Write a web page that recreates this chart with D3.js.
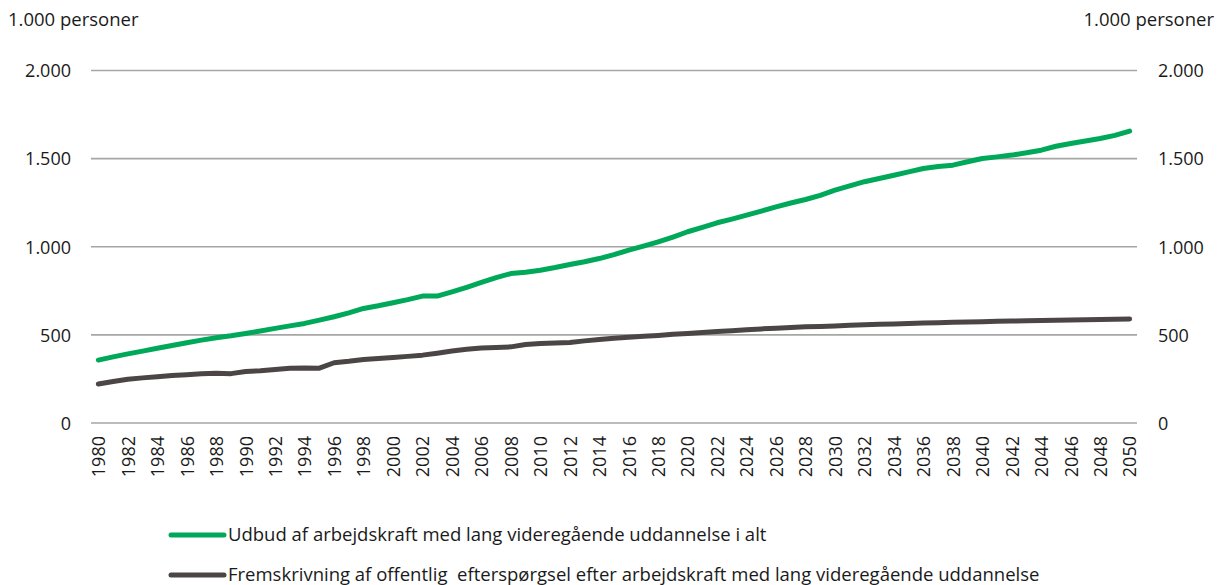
<!DOCTYPE html>
<html><head><meta charset="utf-8">
<script src="https://cdn.jsdelivr.net/npm/d3@7"></script>
<style>
body{margin:0;background:#fff;}
svg text{font-family:"Open Sans",sans-serif;fill:#1a1a1a;}
</style></head>
<body><svg id="c" width="1222" height="585"></svg>
<script>
const years = d3.range(1980, 2051);
const supply = [357,375,392,408,424,440,455,470,484,495,508,522,537,551,565,584,603,625,650,665,682,700,720,720,744,770,798,825,848,855,867,882,899,915,933,955,981,1004,1028,1055,1085,1110,1136,1157,1179,1202,1226,1248,1268,1292,1321,1345,1369,1387,1406,1425,1444,1455,1463,1482,1501,1510,1520,1533,1548,1570,1586,1600,1614,1632,1656];
const demand = [221,235,248,256,263,269,274,279,282,280,292,297,304,310,312,311,342,350,360,366,372,378,385,396,408,418,425,428,432,445,451,454,457,466,474,481,487,492,497,503,508,514,519,524,529,534,538,542,546,548,551,554,557,560,562,565,567,569,571,573,575,577,579,580,582,583,585,586,587,588,590];
const yTicks = [0,500,1000,1500,2000];
const yTickLabels = ["0","500","1.000","1.500","2.000"];
const seriesNames = ["Udbud af arbejdskraft med lang videregående uddannelse i alt","Fremskrivning af offentlig  efterspørgsel efter arbejdskraft med lang videregående uddannelse"];
const seriesColors = ["#00A85A","#4B4645"];
const unitLabel = "1.000 personer";

const svg = d3.select("#c");
const L=91, R=1137, T=70.5, B=423;
const x = d3.scalePoint().domain(years).range([L,R]).padding(0.5);
const y = d3.scaleLinear().domain([0,2000]).range([B,T]);

// grid
svg.append("g").selectAll("line").data(yTicks).join("line")
  .attr("x1",L).attr("x2",R).attr("y1",d=>y(d)).attr("y2",d=>y(d))
  .attr("stroke","#a6a6a6").attr("stroke-width",1.6);

// left axis labels
const ly = d3.axisLeft(y).tickValues(yTicks).tickFormat((d,i)=>yTickLabels[i]).tickSize(0).tickPadding(0);
const gl = svg.append("g").attr("transform","translate(71,0)").call(ly);
gl.select(".domain").remove();
gl.selectAll("text").attr("font-size",18).attr("font-family","Open Sans").attr("fill","#1a1a1a").attr("dy","0.35em");

const ry = d3.axisRight(y).tickValues(yTicks).tickFormat((d,i)=>yTickLabels[i]).tickSize(0).tickPadding(0);
const gr = svg.append("g").attr("transform","translate(1158,0)").call(ry);
gr.select(".domain").remove();
gr.selectAll("text").attr("font-size",18).attr("font-family","Open Sans").attr("fill","#1a1a1a").attr("dy","0.35em");

// x axis
const xa = d3.axisBottom(x).tickValues(years.filter(d=>d%2===0)).tickSize(0).tickPadding(0);
const gx = svg.append("g").attr("transform",`translate(0,${B})`).call(xa);
gx.select(".domain").remove();
gx.selectAll("text").attr("font-size",18).attr("font-family","Liberation Sans, Arial, sans-serif").attr("fill","#1a1a1a")
  .attr("transform","rotate(-90)").attr("text-anchor","end").attr("x",-13).attr("y",0).attr("dy","0.35em");

// unit labels
svg.append("text").attr("x",8).attr("y",26).attr("font-size",18.5).text(unitLabel);
svg.append("text").attr("x",1214).attr("y",26).attr("font-size",18.5).attr("text-anchor","end").text(unitLabel);

// lines
const line = d3.line().x((d,i)=>x(years[i])).y(d=>y(d));
[supply,demand].forEach((s,i)=>{
  svg.append("path").datum(s).attr("d",line).attr("fill","none")
    .attr("stroke",seriesColors[i]).attr("stroke-width",5).attr("stroke-linecap","round").attr("stroke-linejoin","round");
});

// legend
const legY = [535,575];
seriesNames.forEach((n,i)=>{
  svg.append("line").attr("x1",171).attr("x2",224).attr("y1",legY[i]).attr("y2",legY[i])
    .attr("stroke",seriesColors[i]).attr("stroke-width",5).attr("stroke-linecap","round");
  svg.append("text").attr("x",228).attr("y",legY[i]).attr("dy","0.35em").attr("font-size",18.5)
    .style("white-space","pre").text(n);
});
</script></body></html>
